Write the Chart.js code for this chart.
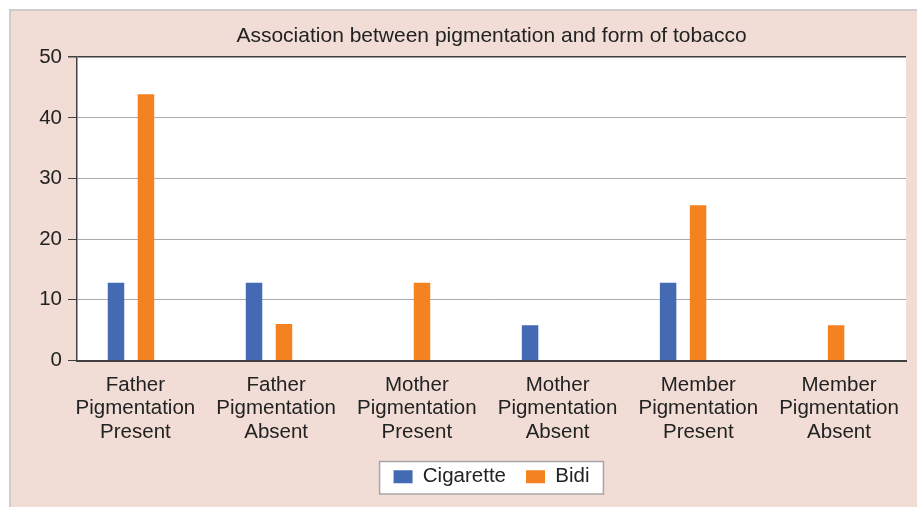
<!DOCTYPE html>
<html>
<head>
  <meta charset="UTF-8">
  <style>
    html, body { margin: 0; padding: 0; background: #fff; overflow: hidden; }
    #wrap { width: 917px; height: 507px; position: relative; }
  </style>
</head>
<body>
  <div id="wrap"><canvas id="tobacco_chart"></canvas></div>

  <script src="https://cdn.jsdelivr.net/npm/chart.js"></script>
  <script>
    // data
    const categories = [
      ['Father', 'Pigmentation', 'Present'],
      ['Father', 'Pigmentation', 'Absent'],
      ['Mother', 'Pigmentation', 'Present'],
      ['Mother', 'Pigmentation', 'Absent'],
      ['Member', 'Pigmentation', 'Present'],
      ['Member', 'Pigmentation', 'Absent']
    ]
    const cigarette = [12.8, 12.8, 0, 5.8, 12.8, 0]
    const bidi = [43.9, 6, 12.8, 0, 25.6, 5.8]
    const yTicks = [0, 10, 20, 30, 40, 50]

    const textColor = '#222222'
    const axisColor = '#404040'
    const fontFamily = '"Liberation Sans", Arial, sans-serif'

    // pink panel, white plot area and the legend frame
    const backdrop = {
      id: 'backdrop',
      beforeDraw(chart) {
        const {ctx, width, height, chartArea: a} = chart
        ctx.save()
        ctx.fillStyle = '#ffffff'
        ctx.fillRect(0, 0, width, height)
        ctx.fillStyle = '#f1ddd5'
        ctx.fillRect(9, 9, width - 9, height - 9)
        ctx.strokeStyle = '#cdcdcd'
        ctx.lineWidth = 2
        ctx.beginPath()
        ctx.moveTo(10, height)
        ctx.lineTo(10, 10)
        ctx.lineTo(width, 10)
        ctx.stroke()
        ctx.fillStyle = '#ffffff'
        ctx.fillRect(a.left, a.top, a.right - a.left, a.bottom - a.top)

        const hb = chart.legend.legendHitBoxes
        if (hb && hb.length) {
          const first = hb[0]
          const last = hb[hb.length - 1]
          const x0 = first.left - 14
          const x1 = last.left + last.width + 14
          const y0 = first.top - 5
          const y1 = first.top + first.height + 7
          ctx.fillStyle = '#ffffff'
          ctx.fillRect(x0, y0, x1 - x0, y1 - y0)
          ctx.strokeStyle = '#a6a6a6'
          ctx.lineWidth = 1.5
          ctx.strokeRect(x0, y0, x1 - x0, y1 - y0)
        }
        ctx.restore()
      }
    }

    const ctxEl = document.getElementById('tobacco_chart')
    const chart = new Chart(ctxEl, {
      type: 'bar',
      data: {
        datasets: [{
          label: 'Cigarette',
          data: cigarette.map((v, i) => ({x: i, y: v})),
          backgroundColor: '#436ab3',
          borderWidth: 0,
          xAxisID: 'x'
        }, {
          label: 'Bidi',
          data: bidi.map((v, i) => ({x: i, y: v})),
          backgroundColor: '#f58220',
          borderWidth: 0,
          xAxisID: 'x'
        }]
      },
      options: {
        responsive: true,
        maintainAspectRatio: false,
        animation: false,
        categoryPercentage: 0.434,
        barPercentage: 0.55,
        layout: {
          padding: {left: 0, right: 11, top: 0, bottom: 10}
        },
        plugins: {
          tooltip: {enabled: false},
          title: {
            display: true,
            fullSize: false,
            text: 'Association between pigmentation and form of tobacco',
            color: textColor,
            font: {family: fontFamily, size: 21, weight: 'normal'},
            padding: {top: 24, bottom: 8}
          },
          legend: {
            position: 'bottom',
            fullSize: false,
            labels: {
              boxWidth: 19,
              boxHeight: 13,
              padding: 20,
              color: textColor,
              font: {family: fontFamily, size: 20.5}
            }
          }
        },
        scales: {
          x: {
            type: 'linear',
            position: 'bottom',
            weight: 0,
            min: -0.391,
            max: 5.615,
            offset: false,
            grid: {display: false, drawTicks: false, offset: false},
            border: {display: true, color: axisColor, width: 2},
            ticks: {display: false, stepSize: 1, includeBounds: false}
          },
          x2: {
            type: 'linear',
            position: 'bottom',
            weight: 1,
            min: -0.415,
            max: 5.476,
            offset: false,
            grid: {display: false, drawTicks: false, offset: false},
            border: {display: false},
            ticks: {
              stepSize: 1,
              includeBounds: false,
              autoSkip: false,
              maxRotation: 0,
              padding: 13,
              color: textColor,
              font: {family: fontFamily, size: 20.5, lineHeight: 1.14},
              callback: (value) => categories[value]
            },
            afterFit: (scale) => { scale.height = 86 }
          },
          y: {
            min: 0,
            max: 50,
            afterBuildTicks: (scale) => { scale.ticks = yTicks.map(v => ({value: v})) },
            grid: {
              color: (c) => c.tick && c.tick.value === 50 ? axisColor : '#a9abb3',
              lineWidth: (c) => c.tick && c.tick.value === 50 ? 1.5 : 1,
              tickColor: axisColor,
              tickLength: 9
            },
            border: {display: true, color: axisColor, width: 1.5},
            ticks: {
              padding: 6,
              color: textColor,
              font: {family: fontFamily, size: 20.5}
            },
            afterFit: (scale) => { scale.width = 77 }
          }
        }
      },
      plugins: [backdrop]
    })
  </script>
</body>
</html>
